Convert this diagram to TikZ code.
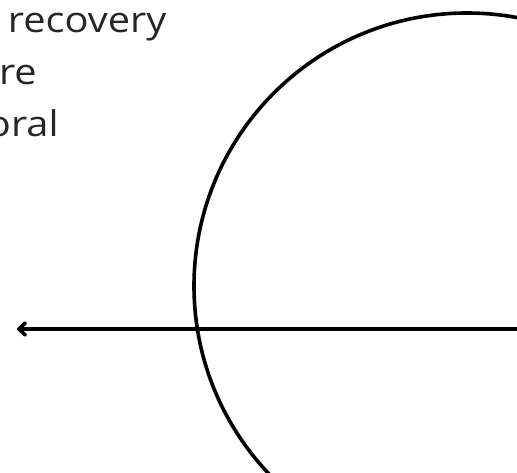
\documentclass[tikz,border=0pt]{standalone}
\usepackage{fontspec}
\setmainfont{Open Sans}
\usetikzlibrary{arrows.meta}
\definecolor{txt}{HTML}{262626}
\tikzset{
  lbl/.style={anchor=base west, inner sep=0pt, outer sep=0pt, text=txt, font=\fontsize{35.5}{40}\selectfont},
  stroke/.style={line width=3.6pt, black},
}
\begin{document}
\begin{tikzpicture}[x=1pt,y=-1pt]
\useasboundingbox (0,0) rectangle (517,473);
\clip (0,0) rectangle (517,473);
\fill[white] (0,0) rectangle (517,473);
\node[lbl] (l1) at (8,33) {\scalebox{1.12}[1]{recovery}};
\node[lbl] (l2) at (-1,85) {\scalebox{1.12}[1]{re}};
\node[lbl] (l3) at (-13,137) {\scalebox{1.12}[1]{oral}};
\node[stroke, draw, circle, minimum size=546pt, inner sep=0pt] (ring) at (467,286) {};
\coordinate (arrR) at (520,329);
\coordinate (arrL) at (17,329);
\draw[stroke, -{Straight Barb[length=6.5pt,width=12pt,round]}] (arrR) -- (arrL);
\end{tikzpicture}
\end{document}
